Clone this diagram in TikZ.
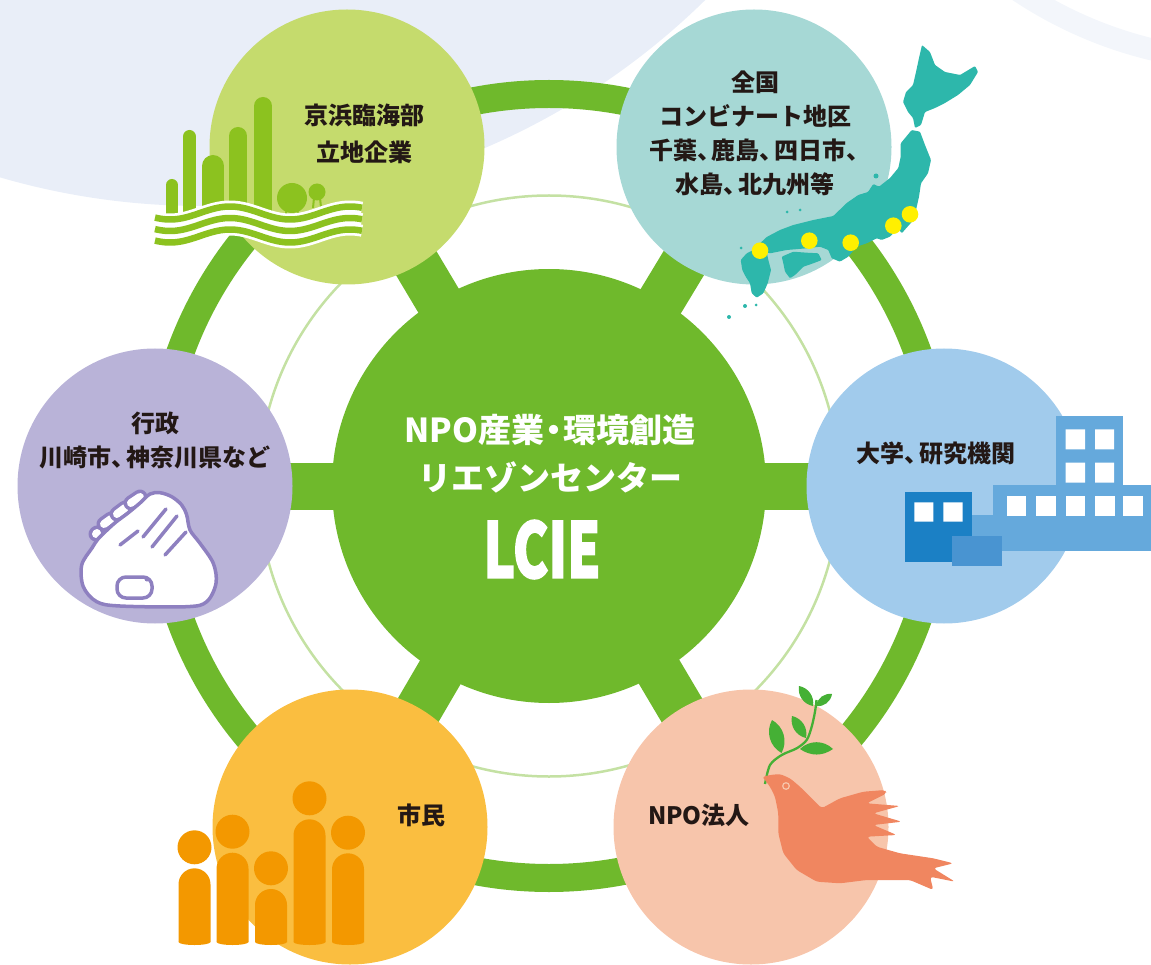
\documentclass[tikz,border=0pt]{standalone}
\usepackage{fontspec}
\newfontfamily\jp{Noto Sans CJK JP}
\newfontfamily\lciefont{Noto Sans CJK JP}[BoldFeatures={FakeBold=2.5}]
\usetikzlibrary{calc}

\definecolor{ringgreen}{HTML}{6FB92C}
\definecolor{thinring}{HTML}{C4E1A3}
\definecolor{bglav}{HTML}{E9EEF8}
\definecolor{bgpale}{HTML}{F3F6FB}
\definecolor{cKeihin}{HTML}{C5DB6D}
\definecolor{cZenkoku}{HTML}{A6D8D5}
\definecolor{cGyosei}{HTML}{B9B3D8}
\definecolor{cDaigaku}{HTML}{A1CBEC}
\definecolor{cShimin}{HTML}{FABE40}
\definecolor{cNPO}{HTML}{F7C5AB}
\definecolor{ink}{HTML}{231815}
\definecolor{factgreen}{HTML}{8CC21F}
\definecolor{japan}{HTML}{2DB7AB}
\definecolor{dotyellow}{HTML}{FFF000}
\definecolor{handline}{HTML}{8E80C0}
\definecolor{bldA}{HTML}{65A9DC}
\definecolor{bldB}{HTML}{1B80C5}
\definecolor{bldC}{HTML}{4994D1}
\definecolor{people}{HTML}{F39800}
\definecolor{dove}{HTML}{F08660}
\definecolor{olive}{HTML}{45B035}

% narrow ideographic comma and middle dot
\newcommand\tk{、\kern-0.4em}
\newcommand\nk{\kern-0.2em・\kern-0.2em}
% one figure of the citizens icon: x centre, head y, body top, body bottom
\newcommand\person[4]{%
  \fill[people] (#1,#2) circle[radius=17pt];
  \fill[people] ({#1-16},#4) -- ({#1-16},{#3+16})
     arc[start angle=180,end angle=0,radius=16pt] -- ({#1+16},#4) -- cycle;
  \fill[people] (#1,#4) ellipse[x radius=16pt,y radius=3pt];}
% outlined finger segment of the hands icon
\newcommand\finger[2]{%
  \draw[handline, line width=15pt, line cap=round] #1 -- #2;
  \draw[white, line width=8pt, line cap=round] #1 -- #2;}

\tikzset{
  sat/.style={circle, minimum size=275pt, inner sep=0pt, draw=none},
  spoke/.style={ringgreen, line width=47pt},
  lbl/.style={font=\jp\bfseries\fontsize{24}{34}\selectfont, text=ink, align=center, inner sep=0pt},
  hubtext/.style={font=\jp\bfseries\fontsize{33}{48}\selectfont, text=white, align=center, inner sep=0pt},
  leaf/.style={fill=olive},
}

\begin{document}
\begin{tikzpicture}[x=1pt,y=-1pt]
\useasboundingbox (0,0) rectangle (1151,965);

% background shapes
\begin{scope}
  \clip (0,0) rectangle (1151,965);
  \fill[bglav] (201.5,-513) circle[radius=719pt];
  \draw[bgpale, line width=22pt] (1250,-356) circle[radius=417pt];
\end{scope}

% positions
\coordinate (hubc) at (549,486);
\coordinate (khc) at (347,147);
\coordinate (zkc) at (754,147);
\coordinate (gsc) at (155,486);
\coordinate (dgc) at (944,486);
\coordinate (smc) at (350,827);
\coordinate (npc) at (751,827);

% rings and spokes
\draw[ringgreen, line width=28pt] (hubc) circle[radius=392pt];
\draw[thinring, line width=2.5pt] (hubc) circle[radius=290.5pt];
\foreach \s in {khc,zkc,gsc,dgc,smc,npc} \draw[spoke] (hubc) -- (\s);

% circles
\node[circle, fill=ringgreen, minimum size=434pt, inner sep=0pt] (hub) at (hubc) {};
\node[sat, fill=cKeihin] (keihin) at (khc) {};
\node[sat, fill=cZenkoku] (zenkoku) at (zkc) {};
\node[sat, fill=cGyosei] (gyosei) at (gsc) {};
\node[sat, fill=cDaigaku] (daigaku) at (dgc) {};
\node[sat, fill=cShimin] (shimin) at (smc) {};
\node[sat, fill=cNPO] (npo) at (npc) {};

% ---- industrial waterfront icon ----
\begin{scope}[factgreen, line cap=round]
  \draw[line width=12pt] (172,185) -- (172,215);
  \draw[line width=13pt] (189.5,136.5) -- (189.5,215);
  \draw[line width=22pt] (213,166) -- (213,215);
  \draw[line width=18pt] (238,136) -- (238,215);
  \draw[line width=18pt] (263,106) -- (263,215);
\end{scope}
\fill[factgreen] (292,198) circle[radius=15pt];
\draw[factgreen, line width=2pt] (287,208) -- (285,218) (297,208) -- (299,218);
\fill[factgreen] (317,192) circle[radius=8.5pt];
\draw[factgreen, line width=2pt] (314,198) -- (313,208) (320,198) -- (321,207);
\foreach \o in {0,11.5,23}
  \draw[white, line width=12pt] plot[domain=155:362, samples=80, smooth] (\x,{213+\o-6.5*cos((\x-230)*3)});
\foreach \o in {0,11.5,23}
  \draw[factgreen, line width=6.5pt] plot[domain=155:362, samples=80, smooth] (\x,{213+\o-6.5*cos((\x-230)*3)});

% ---- map of Japan ----
\begin{scope}[japan, rounded corners=1pt]
  % Hokkaido
  \fill (922,45) -- (930,52) -- (935,65) -- (945,72) -- (960,75) -- (975,66) -- (978,72)
     -- (970,85) -- (958,95) -- (945,103) -- (935,108) -- (925,112) -- (921,125) -- (915,128)
     -- (913,118) -- (908,112) -- (903,102) -- (906,92) -- (913,85) -- (916,72) -- (919,58) -- cycle;
  % Honshu
  \fill (911.7,130) -- (920,131.7) -- (925,145) -- (931,160) -- (928,173.3) -- (921,183.3)
     -- (919,196.7) -- (916,210) -- (912,221.7) -- (901.7,233.3) -- (898.3,228.3)
     -- (890,236.7) -- (881.7,240) -- (876.7,238.3) -- (866.7,243.3) -- (856.7,246.7)
     -- (848.3,256.7) -- (840,261.7) -- (831.7,258.3) -- (828.3,250) -- (820,246.7)
     -- (806.7,248.3) -- (786.7,250) -- (770,253.3) -- (763.3,251.7) -- (758.3,245)
     -- (766.7,237) -- (780,230) -- (793.3,225) -- (813.3,220) -- (833.3,216)
     -- (846.7,203) -- (858.3,195) -- (868,192) -- (873.3,184) -- (879,186.7) -- (890,178)
     -- (898.3,168) -- (900.7,156.7) -- (900.7,143.3) -- cycle;
  % Shikoku
  \fill (781.7,256.7) -- (793.3,251.7) -- (806.7,252.7) -- (818.3,253.3) -- (821.7,260)
     -- (813.3,263.3) -- (803.3,266.7) -- (795,275) -- (790,278.3) -- (785,271.7) -- (783.3,263.3) -- cycle;
  % Kyushu
  \fill (746.7,253.3) -- (756.7,248.3) -- (766.7,251.7) -- (768.3,260) -- (771,270)
     -- (767.7,283.3) -- (763.3,293.3) -- (756.7,297.7) -- (751.7,293.3) -- (750,283.3)
     -- (745.7,276.7) -- (742.3,270) -- (740.7,260) -- cycle;
\end{scope}
\fill[japan] (876,176) circle[radius=2.5pt] (787,212) circle[radius=1.5pt]
  (800,210) circle[radius=1.5pt] (745,306) circle[radius=2pt] (756,305) circle[radius=1.5pt]
  (729,317) circle[radius=2pt] (741,248) circle[radius=1.5pt];
\foreach \p in {(760,250.7),(809.3,240.7),(850.7,242.7),(893.3,225.7),(910,214.3)}
  \fill[dotyellow] \p circle[radius=8.3pt];

% ---- clasped hands ----
\finger{(96,534)}{(97,533)}
\finger{(104,524)}{(111,519)}
\finger{(117,514)}{(125,508)}
\finger{(131,503)}{(140,497)}
\filldraw[fill=white, draw=handline, line width=3.5pt, line join=round]
  plot[smooth cycle, tension=0.55] coordinates {(92,548) (81.7,565) (83.3,586.7)
  (96.7,601.7) (120,606) (186.7,606.7) (206.7,601.7) (216,583.3) (213.3,563.3) (200,543.3)
  (190,530) (186.7,515) (181.7,505) (171.7,496.7) (160,492.7) (150,494) (140,503)
  (128,513) (116,522) (106,531) (98,539)};
\begin{scope}[handline, line width=3.5pt, line cap=round]
  \draw (143,537) -- (166,509);
  \draw (152,547) -- (177,516);
  \draw (165,555) -- (186,532);
  \draw (120,545) -- (138,531);
\end{scope}
\filldraw[fill=white, draw=handline, line width=3.5pt, rounded corners=9pt] (117,577) rectangle (152,598);
\fill[handline] (147,579) circle[radius=2.5pt];

% ---- campus buildings ----
\fill[bldA] (1056,416) rectangle (1123,486);
\fill[bldA] (992.7,485) rectangle (1151,550.7);
\fill[bldA] (972,515) rectangle (993,550.7);
\fill[white] (1065.7,429.3) rectangle (1085,449.3) (1095,429.3) rectangle (1114,449.3)
  (1065.7,462.7) rectangle (1085,482.7) (1095,462.7) rectangle (1114,482.7);
\foreach \wx in {1006.7,1036,1065.7,1095,1123.3}
  \fill[white] (\wx,495.7) rectangle ({\wx+19.5},515.7);
\fill[bldB] (905,491.7) rectangle (972.3,561.7);
\fill[white] (914.3,502.3) rectangle (933.3,521.7) (943.3,502.3) rectangle (962.7,521.7);
\fill[bldC] (952.3,536) rectangle (1001.7,565.7);

% ---- citizens ----
\person{194.5}{847.3}{868.3}{942}
\person{232.5}{831.7}{852.7}{942}
\person{271}{868.3}{889}{942}
\person{309.5}{798.3}{819.3}{942}
\person{348}{832.7}{853.3}{942}

% ---- dove with olive branch ----
\draw[olive, line width=2.3pt] plot[smooth] coordinates {(765,784) (770,765) (781.7,755)
  (796.7,748.3) (806.7,740) (811.7,726.7) (815,711.7) (816.5,700)};
\fill[leaf] (781.5,753) to[bend left=45] (772,720) to[bend left=45] (781.5,753) -- cycle;
\fill[leaf] (800,749) to[bend left=45] (833,749) to[bend left=35] (800,749) -- cycle;
\fill[leaf] (806,738) to[bend left=45] (792,716) to[bend left=45] (806,738) -- cycle;
\fill[leaf] (813,706) to[bend left=45] (799,686) to[bend left=45] (813,706) -- cycle;
\fill[leaf] (816,706) to[bend left=45] (832,694) to[bend left=45] (816,706) -- cycle;
\fill[dove, rounded corners=3pt] (762.3,776.7) -- (770,775) -- (780,774) -- (790,778.3)
  -- (800,786.7) -- (813.3,800) -- (821.7,808.3) -- (840,798.3) -- (863.3,791.7)
  -- (885,790) -- (886.7,793.3) -- (866.7,803.3) -- (900,806) -- (873.3,813.3)
  -- (901.7,821.7) -- (873.3,825) -- (896.7,835) -- (866.7,836.7) -- (876.7,846.7)
  -- (900,853.3) -- (933.3,858.3) -- (953.3,863.3) -- (933.3,868.3) -- (955,881.7)
  -- (930,876.7) -- (933.3,890) -- (910,880) -- (886.7,880) -- (866.7,880)
  -- (840,883.3) -- (816.7,881.7) -- (796.7,870) -- (783.3,853.3) -- (778.3,833.3)
  -- (778.3,813.3) -- (775,796.7) -- (770,786.7) -- (765,780) -- cycle;
\filldraw[fill=dove, draw=cNPO, line width=1.2pt] (786,786) circle[radius=3.3pt];

% ---- labels ----
\node[hubtext] (hubname) at (550,454) {NPO産業\nk 環境創造\\リエゾンセンター};
\node[text=white, font=\lciefont\bfseries, inner sep=0pt] (lcie) at (542,549.5)
  {\scalebox{0.7}[1]{\fontsize{76}{76}\selectfont LCIE}};
\node[lbl] (t-keihin) at (364,133.5) {京浜臨海部\\[3pt]立地企業};
\node[lbl] (t-zenkoku) at (755,133) {全国\\コンビナート地区\\千葉\tk 鹿島\tk 四日市\tk\\水島\tk 北九州等};
\node[lbl] (t-gyosei) at (155,440) {行政\\川崎市\tk 神奈川県など};
\node[lbl] (t-daigaku) at (936,453) {大学\tk 研究機関};
\node[lbl] (t-shimin) at (421.5,815) {市民};
\node[lbl] (t-npo) at (699,815) {NPO法人};
\end{tikzpicture}
\end{document}
